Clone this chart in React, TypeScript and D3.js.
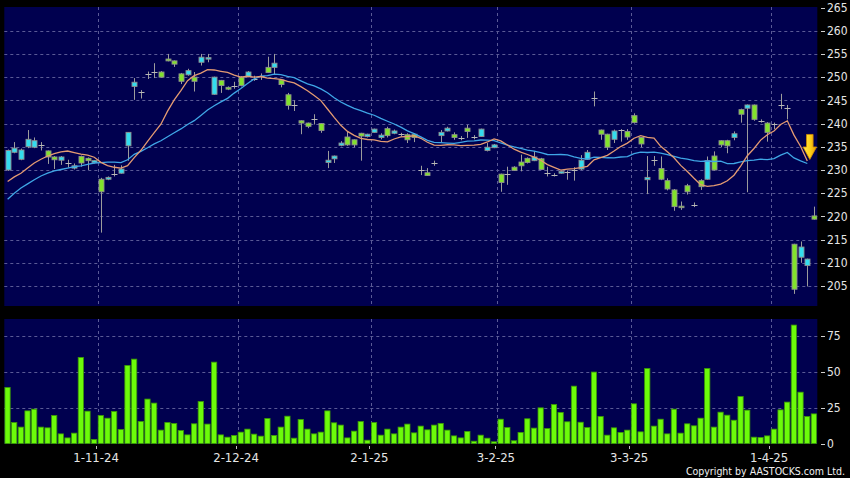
import React, { useEffect } from 'react';
import * as d3 from 'd3';

// ---- data ----
const opens = [
  230.0, 233.8, 232.3, 235.0, 234.9, 235.4, 234.1, 232.8, 232.1, 231.5,
  230.4, 232.9, 232.5, 231.6, 228.0, 228.0, 229.2, 229.3, 235.2, 248.0,
  246.8, 250.6, 251.0, 251.1, 253.9, 253.5, 250.7, 250.5, 250.0, 253.2,
  253.9, 246.3, 249.3, 247.8, 248.0, 250.0, 250.1, 249.7, 250.2, 252.1,
  252.1, 249.4, 246.2, 243.9, 240.6, 240.1, 241.0, 240.0, 231.6, 232.4,
  235.3, 237.1, 236.5, 237.9, 237.2, 238.1, 237.0, 238.9, 237.9, 237.7,
  237.6, 237.7, 229.9, 229.4, 231.5, 237.4, 238.4, 237.6, 236.9, 239.0,
  237.0, 237.2, 234.2, 234.8, 229.1, 229.2, 230.6, 231.7, 232.5, 232.0,
  232.4, 229.3, 228.9, 229.3, 229.6, 230.0, 230.2, 232.3, 245.6, 238.6,
  237.7, 236.6, 238.6, 238.3, 241.7, 237.0, 227.9, 232.1, 230.3, 227.7,
  225.7, 222.2, 226.6, 222.5, 227.7, 228.0, 233.0, 236.3, 236.3, 237.0,
  243.0, 243.3, 244.0, 240.6, 240.1, 240.0, 244.0, 243.3, 214.0, 211.2,
  209.4, 220.1,
];
const highs = [
  234.4, 236.0, 234.6, 238.6, 237.0, 236.0, 234.2, 233.0, 233.0, 232.2,
  231.4, 233.1, 232.7, 232.1, 228.3, 228.6, 231.1, 231.0, 238.1, 249.8,
  247.2, 251.2, 253.0, 251.3, 255.0, 253.6, 250.9, 251.8, 251.1, 255.0,
  255.0, 250.1, 249.4, 248.0, 249.0, 250.2, 251.3, 250.3, 250.8, 254.4,
  255.0, 249.6, 246.6, 245.0, 240.7, 240.2, 242.0, 240.1, 234.1, 233.1,
  236.2, 238.3, 236.6, 238.0, 237.8, 238.9, 237.9, 239.3, 238.7, 238.0,
  237.9, 237.9, 230.9, 230.4, 232.0, 238.6, 239.3, 238.1, 237.3, 239.7,
  237.5, 238.9, 235.8, 235.6, 229.2, 230.7, 230.8, 233.3, 232.7, 234.1,
  232.6, 230.7, 229.3, 229.9, 229.9, 230.6, 233.2, 234.3, 246.9, 238.7,
  237.8, 238.7, 238.8, 238.8, 242.2, 237.1, 233.0, 233.0, 232.9, 228.2,
  225.9, 223.2, 227.0, 223.0, 228.0, 232.9, 234.0, 236.4, 236.5, 238.3,
  243.2, 244.1, 244.1, 240.9, 240.3, 240.2, 246.4, 244.0, 214.1, 214.6,
  210.9, 222.1,
];
const lows = [
  229.8, 233.6, 232.1, 234.7, 234.7, 234.2, 231.3, 230.2, 231.1, 230.5,
  230.1, 230.7, 230.0, 231.4, 216.5, 227.8, 228.6, 229.2, 232.0, 245.1,
  245.4, 249.6, 249.8, 249.9, 253.4, 252.2, 248.5, 250.3, 246.9, 252.5,
  253.2, 246.2, 246.6, 247.2, 247.5, 248.0, 250.0, 249.2, 249.4, 250.9,
  250.5, 247.8, 243.0, 242.7, 237.7, 239.0, 239.8, 238.0, 230.4, 231.5,
  235.1, 235.2, 234.9, 232.0, 237.0, 238.0, 236.6, 237.0, 237.7, 237.2,
  235.8, 236.0, 228.9, 228.7, 230.9, 236.0, 238.3, 236.5, 236.4, 236.9,
  236.6, 237.1, 234.0, 234.7, 225.3, 226.8, 229.8, 229.7, 231.4, 231.9,
  230.0, 228.6, 228.6, 229.2, 227.9, 227.7, 230.0, 232.2, 243.7, 236.5,
  234.3, 235.8, 236.1, 236.5, 240.0, 234.9, 224.8, 230.9, 227.8, 225.6,
  221.2, 221.4, 224.7, 222.0, 225.7, 227.9, 229.9, 234.9, 233.6, 236.4,
  240.2, 225.2, 240.6, 240.2, 236.1, 238.8, 243.1, 240.9, 203.3, 210.0,
  204.9, 219.3,
];
const closes = [
  234.2, 234.7, 234.3, 236.6, 236.3, 235.4, 232.8, 232.2, 232.8, 231.5,
  230.9, 231.5, 232.0, 232.0, 225.3, 228.4, 229.2, 230.2, 238.1, 248.9,
  246.8, 250.6, 251.0, 250.0, 253.5, 252.8, 249.1, 251.4, 249.1, 254.3,
  254.2, 250.0, 248.2, 247.4, 248.0, 248.2, 251.1, 249.7, 250.2, 251.0,
  253.0, 248.4, 243.9, 243.9, 240.1, 239.4, 241.0, 238.5, 232.1, 233.0,
  235.8, 235.4, 235.4, 237.3, 237.7, 238.8, 237.5, 237.4, 238.4, 237.7,
  236.5, 237.0, 229.9, 228.8, 231.5, 238.1, 239.0, 237.0, 236.9, 238.3,
  237.0, 238.8, 234.9, 235.4, 227.3, 229.2, 229.9, 230.9, 231.6, 232.8,
  230.1, 229.3, 228.9, 229.7, 229.6, 230.0, 232.1, 233.8, 245.6, 237.7,
  234.9, 238.4, 238.6, 237.1, 240.2, 235.6, 228.4, 232.1, 228.0, 225.9,
  222.1, 221.9, 225.3, 222.5, 226.4, 232.0, 230.0, 235.4, 235.2, 237.8,
  242.0, 244.0, 240.9, 240.6, 238.1, 240.0, 244.0, 243.3, 204.3, 213.4,
  210.8, 219.4,
];
const volumes = [
  39.0, 14.6, 11.4, 22.7, 23.9, 11.4, 10.9, 19.5, 6.7, 3.9,
  7.2, 59.9, 22.5, 2.8, 19.5, 17.6, 22.3, 9.7, 54.3, 58.7,
  15.3, 30.9, 28.1, 9.3, 14.6, 13.9, 9.0, 6.0, 13.7, 29.2,
  13.5, 56.6, 6.0, 4.4, 5.6, 7.9, 10.0, 6.5, 5.1, 17.4,
  5.6, 11.4, 19.0, 3.7, 16.7, 10.0, 6.7, 7.9, 22.7, 14.4,
  12.8, 3.9, 8.6, 15.3, 2.3, 14.6, 5.8, 10.0, 6.7, 11.4,
  13.5, 7.4, 12.1, 9.5, 12.8, 14.0, 9.3, 5.3, 3.9, 8.4,
  1.6, 5.8, 3.7, 1.2, 16.9, 11.1, 1.9, 7.7, 17.2, 10.7,
  24.8, 10.4, 27.1, 21.6, 15.1, 39.9, 14.8, 11.1, 49.7, 18.8,
  5.8, 10.9, 7.7, 9.3, 27.6, 8.1, 52.2, 12.1, 16.9, 6.7,
  23.9, 7.2, 13.7, 12.3, 17.6, 52.2, 11.4, 21.8, 19.7, 16.2,
  32.7, 23.2, 4.4, 4.2, 5.3, 10.0, 23.4, 28.8, 82.4, 35.7,
  18.8, 20.6,
];
// moving-average values at the left edge (their windows start before the visible data)
const ma10Lead = [227.5, 228.5, 229.3, 230.4, 231.5, 232.3, 233.0, 233.5, 233.9];
const ma20Lead = [
  223.7, 225.0, 226.1, 227.0, 227.9, 228.7, 229.3, 229.8, 230.1, 230.4,
  230.7, 230.9, 231.2, 231.5, 231.6, 231.7, 231.7, 231.6, 232.2,
];
const maLastIndex = 120;
const monthStartIdx = [14, 35, 55, 74, 94, 115];
const monthLabels = ['1-11-24', '2-12-24', '2-1-25', '3-2-25', '3-3-25', '1-4-25'];
const priceTicks = [205, 210, 215, 220, 225, 230, 235, 240, 245, 250, 255, 260, 265];
const volTicks = [0, 25, 50, 75];

const FONT = "'DejaVu Sans Condensed', 'DejaVu Sans', sans-serif";

export default function App() {
  useEffect(() => {
    document.body.style.margin = '0';
    document.body.style.background = '#000';
  }, []);

  const n = closes.length;
  const plotLeft = 4.3;
  const plotRight = 817.3;
  const mainTop = 7;
  const mainBottom = 306;
  const volTop = 319;
  const volBottom = 444;

  const x = d3.scaleBand<number>().domain(d3.range(n)).range([plotLeft, plotRight]);
  const step = x.step();
  const cx = (i: number) => (x(i) as number) + step / 2;
  const px = (i: number) => Math.round(cx(i)) + 0.5;
  const y = d3.scaleLinear().domain([205, 265]).range([286, 7.5]);
  const yv = d3.scaleLinear().domain([0, 75]).range([443.5, 335.7]);

  const movingAvg = (period: number, lead: number[]) =>
    closes.slice(0, maLastIndex + 1).map((_, i) =>
      i < period - 1 ? lead[i] : (d3.mean(closes.slice(i - period + 1, i + 1)) as number)
    );
  const ma10 = movingAvg(10, ma10Lead);
  const ma20 = movingAvg(20, ma20Lead);
  const line = d3
    .line<number>()
    .x((_, i) => cx(i))
    .y((d) => y(d));

  const gridColor = '#5a5a96';
  const cyan = '#33dcef';
  const green = '#82e22c';
  const bw = 5;

  const tipX = cx(maLastIndex) + 2.5;
  const tipY = y(ma10[maLastIndex]) - 1.5;
  const arrowPath = [
    [tipX - 3.3, tipY - 25],
    [tipX + 3.3, tipY - 25],
    [tipX + 3.3, tipY - 12.5],
    [tipX + 6.8, tipY - 12.5],
    [tipX, tipY],
    [tipX - 6.8, tipY - 12.5],
    [tipX - 3.3, tipY - 12.5],
  ];

  return (
    <svg
      width={850}
      height={478}
      style={{ display: 'block', position: 'absolute', left: 0, top: 0, background: '#000' }}
    >
      <defs>
        <linearGradient id="arrowGrad" x1="0" y1="0" x2="1" y2="0">
          <stop offset="0" stopColor="#ffe94a" />
          <stop offset="0.5" stopColor="#ffd21a" />
          <stop offset="1" stopColor="#e89a00" />
        </linearGradient>
        <clipPath id="mainClip">
          <rect x={plotLeft} y={mainTop} width={plotRight - plotLeft} height={mainBottom - mainTop} />
        </clipPath>
      </defs>

      {/* panels */}
      <rect x={plotLeft} y={mainTop} width={plotRight - plotLeft} height={mainBottom - mainTop} fill="#00004f" />
      <rect x={plotLeft} y={volTop} width={plotRight - plotLeft} height={volBottom - volTop} fill="#00004f" />

      {/* horizontal grid, main */}
      {priceTicks
        .filter((t) => t < 265)
        .map((t) => (
          <line
            key={'hg' + t}
            x1={plotLeft}
            x2={plotRight}
            y1={Math.round(y(t)) + 0.5}
            y2={Math.round(y(t)) + 0.5}
            stroke={gridColor}
            strokeDasharray="3,3"
          />
        ))}
      {/* horizontal grid, volume */}
      {volTicks
        .filter((t) => t > 0)
        .map((t) => (
          <line
            key={'vg' + t}
            x1={plotLeft}
            x2={plotRight}
            y1={Math.round(yv(t)) + 0.5}
            y2={Math.round(yv(t)) + 0.5}
            stroke={gridColor}
            strokeDasharray="3,3"
          />
        ))}
      {/* vertical grid */}
      {monthStartIdx.map((idx) => {
        const gx = Math.round(x(idx) as number) + 0.5;
        return (
          <g key={'vgx' + idx}>
            <line x1={gx} x2={gx} y1={mainTop} y2={mainBottom} stroke={gridColor} strokeDasharray="3,3" />
            <line x1={gx} x2={gx} y1={volTop} y2={volBottom} stroke={gridColor} strokeDasharray="3,3" />
            <line x1={gx - 2} x2={gx - 2} y1={volBottom + 2} y2={volBottom + 5} stroke="#bdbdbd" />
          </g>
        );
      })}

      {/* candles */}
      <g clipPath="url(#mainClip)">
        {closes.map((c, i) => {
          const o = opens[i];
          const xc = px(i);
          const wick = (
            <line x1={xc} x2={xc} y1={y(highs[i])} y2={y(lows[i])} stroke="#9c9c9c" strokeWidth={1} />
          );
          if (o === c) {
            const yy = Math.round(y(c)) + 0.5;
            return (
              <g key={'c' + i}>
                {wick}
                <line x1={xc - 3} x2={xc + 3} y1={yy} y2={yy} stroke="#b8b8b8" strokeWidth={1} />
              </g>
            );
          }
          const top = y(Math.max(o, c));
          const h = Math.max(1.5, Math.abs(y(o) - y(c)));
          return (
            <g key={'c' + i}>
              {wick}
              <rect
                x={xc - bw / 2}
                y={top}
                width={bw}
                height={h}
                fill={c > o ? cyan : green}
                stroke="#8f8f8f"
                strokeWidth={0.9}
              />
            </g>
          );
        })}
        {/* moving averages */}
        <path d={line(ma20) as string} fill="none" stroke="#3fa6e6" strokeWidth={1.3} />
        <path d={line(ma10) as string} fill="none" stroke="#e39a72" strokeWidth={1.3} />
      </g>

      {/* arrow marker */}
      <polygon
        points={arrowPath.map((p) => p.join(',')).join(' ')}
        fill="url(#arrowGrad)"
        stroke="#d08a00"
        strokeWidth={0.8}
      />

      {/* volume bars */}
      {volumes.map((v, i) => (
        <rect
          key={'v' + i}
          x={(x(i) as number) + 0.6}
          y={yv(v)}
          width={step - 1.4}
          height={yv(0) - yv(v)}
          fill="#6cfb0a"
          stroke="#3c9a06"
          strokeWidth={0.8}
        />
      ))}

      {/* right price axis */}
      {priceTicks.map((t) => (
        <g key={'pt' + t}>
          <line x1={821} x2={825} y1={Math.round(y(t)) + 0.5} y2={Math.round(y(t)) + 0.5} stroke="#cfcfcf" />
          <text x={827} y={y(t)} dy="0.36em" fill="#e6e6e6" fontSize={12} fontFamily={FONT}>
            {t}
          </text>
        </g>
      ))}
      {/* right volume axis */}
      {volTicks.map((t) => (
        <g key={'vt' + t}>
          <line x1={821} x2={825} y1={Math.round(yv(t)) + 0.5} y2={Math.round(yv(t)) + 0.5} stroke="#cfcfcf" />
          <text x={827} y={yv(t)} dy="0.36em" fill="#e6e6e6" fontSize={12} fontFamily={FONT}>
            {t}
          </text>
        </g>
      ))}

      {/* x labels */}
      {monthStartIdx.map((idx, k) => (
        <text
          key={'xl' + idx}
          x={(x(idx) as number) - 1.5}
          y={462}
          textAnchor="middle"
          fill="#e6e6e6"
          fontSize={13}
          fontFamily={FONT}
        >
          {monthLabels[k]}
        </text>
      ))}

      <text x={845} y={475} textAnchor="end" fill="#f0f0f0" fontSize={10.5} fontFamily={FONT}>
        Copyright by AASTOCKS.com Ltd.
      </text>
    </svg>
  );
}
